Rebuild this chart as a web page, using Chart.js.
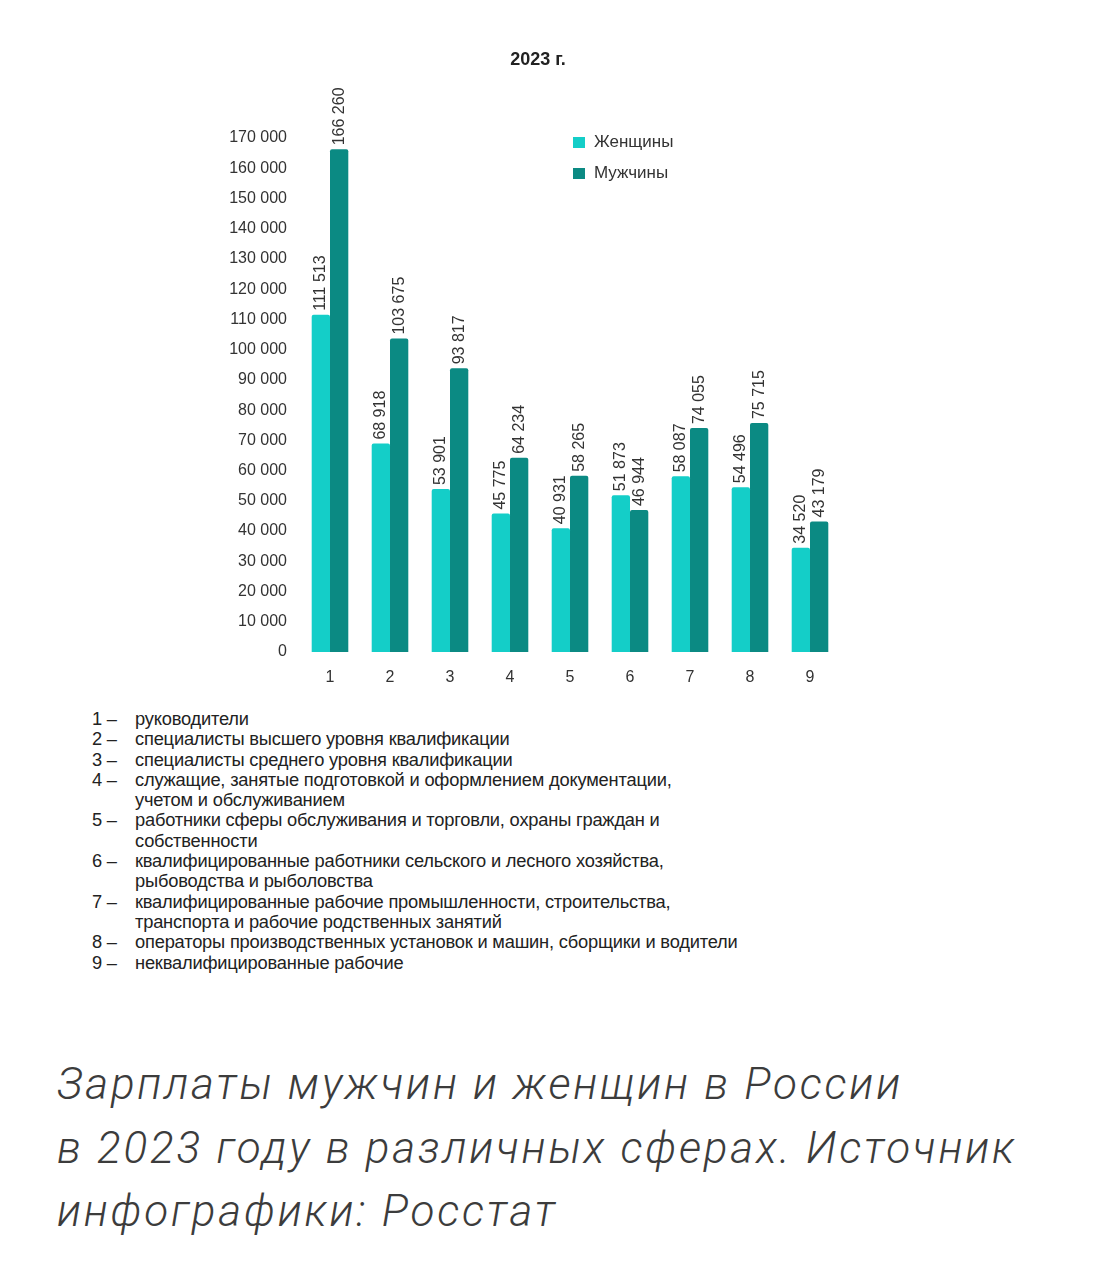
<!DOCTYPE html>
<html><head><meta charset="utf-8">
<script src="https://cdn.jsdelivr.net/npm/chart.js@4"></script>
<style>
html,body{margin:0;padding:0;background:#fff;}
body{width:1113px;height:1280px;position:relative;overflow:hidden;font-family:"Liberation Sans",Arial,sans-serif;color:#333;}
#wrap{position:absolute;left:0;top:0;width:1113px;height:700px;}
#title{position:absolute;left:470px;width:136px;top:49px;text-align:center;font:bold 18px "Liberation Sans",Arial,sans-serif;color:#222;}
.leg{position:absolute;left:573px;font:17px "Liberation Sans",Arial,sans-serif;color:#333;display:flex;align-items:center;}
.leg i{display:inline-block;width:12px;height:11px;margin-right:9px;}
#list{position:absolute;left:92px;top:709px;font:18.3px "Liberation Sans",Arial,sans-serif;line-height:20.3px;color:#222;letter-spacing:-0.2px;}
#list .r{display:flex;}
#list .n{width:43px;flex:none;}
#cap{position:absolute;left:57px;top:1053px;font:italic 300 44px Roboto,"Liberation Sans",sans-serif;line-height:63.5px;color:#3c3c3c;letter-spacing:2.8px;white-space:nowrap;}
</style></head>
<body>
<div id="wrap"><canvas id="c"></canvas></div>
<div id="title">2023 г.</div>
<div class="leg" style="top:132px"><i style="background:#14CEC8"></i>Женщины</div>
<div class="leg" style="top:163px"><i style="background:#0B8A83"></i>Мужчины</div>
<div id="list"></div>
<div id="cap">Зарплаты мужчин и женщин в России<br>в 2023 году в различных сферах. Источник<br>инфографики: Росстат</div>
<script>
const categories = ["1","2","3","4","5","6","7","8","9"];
const women = [111513, 68918, 53901, 45775, 40931, 51873, 58087, 54496, 34520];
const men = [166260, 103675, 93817, 64234, 58265, 46944, 74055, 75715, 43179];
const yTicks = [0,10000,20000,30000,40000,50000,60000,70000,80000,90000,100000,110000,120000,130000,140000,150000,160000,170000];
const descriptions = [
 ["1 –", ["руководители"]],
 ["2 –", ["специалисты высшего уровня квалификации"]],
 ["3 –", ["специалисты среднего уровня квалификации"]],
 ["4 –", ["служащие, занятые подготовкой и оформлением документации,", "учетом и обслуживанием"]],
 ["5 –", ["работники сферы обслуживания и торговли, охраны граждан и", "собственности"]],
 ["6 –", ["квалифицированные работники сельского и лесного хозяйства,", "рыбоводства и рыболовства"]],
 ["7 –", ["квалифицированные рабочие промышленности, строительства,", "транспорта и рабочие родственных занятий"]],
 ["8 –", ["операторы производственных установок и машин, сборщики и водители"]],
 ["9 –", ["неквалифицированные рабочие"]]
];

const list = document.getElementById('list');
descriptions.forEach(([n, lines]) => {
  const r = document.createElement('div'); r.className = 'r';
  const a = document.createElement('div'); a.className = 'n'; a.textContent = n;
  const b = document.createElement('div'); b.innerHTML = lines.join('<br>');
  r.appendChild(a); r.appendChild(b); list.appendChild(r);
});

const fmt = v => String(v).replace(/\B(?=(\d{3})+(?!\d))/g, ' ');

const labelPlugin = {
  id: 'vlabels',
  afterDatasetsDraw(chart) {
    const ctx = chart.ctx;
    ctx.save();
    ctx.font = '16px "Liberation Sans", Arial, sans-serif';
    ctx.fillStyle = '#333';
    ctx.textAlign = 'left';
    ctx.textBaseline = 'middle';
    chart.data.datasets.forEach((ds, di) => {
      chart.getDatasetMeta(di).data.forEach((bar, i) => {
        ctx.save();
        ctx.translate(bar.x, bar.y - 4);
        ctx.rotate(-Math.PI / 2);
        ctx.fillText(fmt(ds.data[i]), 0, 0);
        ctx.restore();
      });
    });
    ctx.restore();
  }
};

new Chart(document.getElementById('c'), {
  type: 'bar',
  data: {
    labels: categories,
    datasets: [
      { label: 'Женщины', data: women, backgroundColor: '#14CEC8', borderRadius: 2, borderSkipped: 'bottom' },
      { label: 'Мужчины', data: men, backgroundColor: '#0B8A83', borderRadius: 2, borderSkipped: 'bottom' }
    ]
  },
  options: {
    responsive: true,
    maintainAspectRatio: false,
    animation: false,
    layout: { padding: { left: 0, right: 273, top: 138, bottom: 0 } },
    plugins: { legend: { display: false }, title: { display: false }, tooltip: { enabled: false } },
    datasets: { bar: { categoryPercentage: 0.61, barPercentage: 1 } },
    scales: {
      x: {
        grid: { display: false, drawTicks: false },
        border: { display: false },
        ticks: { padding: 16, color: '#333', font: { size: 16, family: '"Liberation Sans", Arial, sans-serif' } },
        afterFit(s) { s.height = 48; }
      },
      y: {
        min: 0, max: 170000,
        grid: { display: false, drawTicks: false },
        border: { display: false },
        afterBuildTicks(s) { s.ticks = yTicks.map(v => ({ value: v })); },
        ticks: { padding: 13, color: '#333', font: { size: 16, family: '"Liberation Sans", Arial, sans-serif' }, callback: v => fmt(v) },
        afterFit(s) { s.width = 300; }
      }
    }
  },
  plugins: [labelPlugin]
});
</script>
</body></html>
